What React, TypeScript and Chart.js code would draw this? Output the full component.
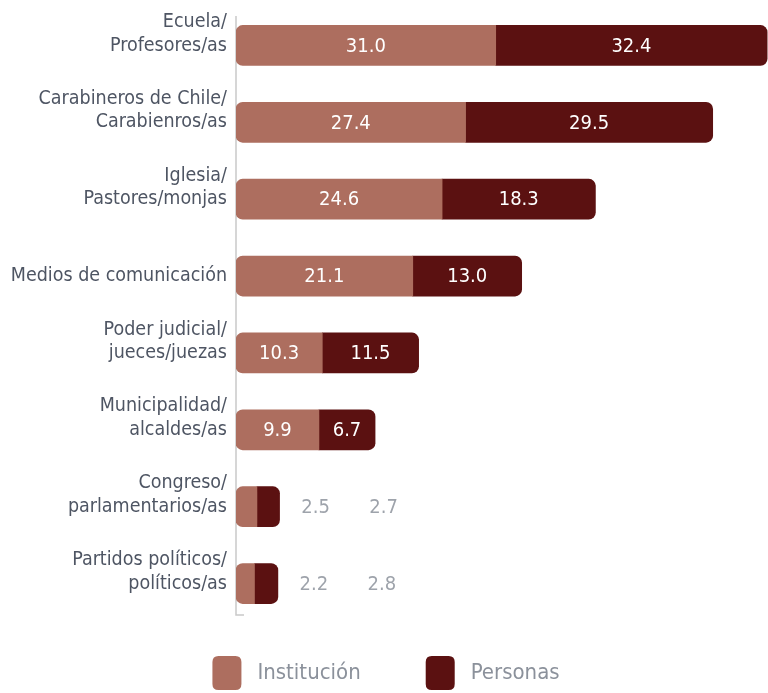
import React, { useEffect, useRef } from "react";
import { Chart, registerables } from "chart.js";

Chart.register(...registerables);

const categories: string[][] = [
  ["Ecuela/", "Profesores/as"],
  ["Carabineros de Chile/", "Carabienros/as"],
  ["Iglesia/", "Pastores/monjas"],
  ["Medios de comunicación"],
  ["Poder judicial/", "jueces/juezas"],
  ["Municipalidad/", "alcaldes/as"],
  ["Congreso/", "parlamentarios/as"],
  ["Partidos políticos/", "políticos/as"],
];
const institucion: number[] = [31.0, 27.4, 24.6, 21.1, 10.3, 9.9, 2.5, 2.2];
const personas: number[] = [32.4, 29.5, 18.3, 13.0, 11.5, 6.7, 2.7, 2.8];
const seriesNames: string[] = ["Institución", "Personas"];

const FONT = "'Liberation Sans Narrow', 'DejaVu Sans Condensed', 'Roboto Condensed', 'Liberation Sans', sans-serif";
const COL_INST = "#ad6e5f";
const COL_PERS = "#5b1111";
const COLORS = [COL_INST, COL_PERS];

function roundRect(ctx: CanvasRenderingContext2D, x: number, y: number, w: number, h: number, r: number) {
  ctx.beginPath();
  ctx.moveTo(x + r, y);
  ctx.lineTo(x + w - r, y);
  ctx.quadraticCurveTo(x + w, y, x + w, y + r);
  ctx.lineTo(x + w, y + h - r);
  ctx.quadraticCurveTo(x + w, y + h, x + w - r, y + h);
  ctx.lineTo(x + r, y + h);
  ctx.quadraticCurveTo(x, y + h, x, y + h - r);
  ctx.lineTo(x, y + r);
  ctx.quadraticCurveTo(x, y, x + r, y);
  ctx.closePath();
}

const labelsPlugin = {
  id: "barLabels",
  beforeDatasetsDraw(chart: any) {
    const ctx = chart.ctx;
    const area = chart.chartArea;
    ctx.save();
    ctx.strokeStyle = "#c9c9c9";
    ctx.lineWidth = 1.5;
    ctx.beginPath();
    ctx.moveTo(area.left, area.top + 9);
    ctx.lineTo(area.left, area.bottom - 7);
    ctx.lineTo(area.left + 8, area.bottom - 7);
    ctx.stroke();
    ctx.restore();
  },
  afterDatasetsDraw(chart: any) {
    const ctx = chart.ctx;
    ctx.save();
    ctx.font = `20px ${FONT}`;
    ctx.textBaseline = "middle";
    ctx.textAlign = "center";
    const m0 = chart.getDatasetMeta(0).data;
    const m1 = chart.getDatasetMeta(1).data;
    for (let i = 0; i < m0.length; i++) {
      const a = m0[i];
      const b = m1[i];
      const wa = Math.abs(a.x - a.base);
      const wb = Math.abs(b.x - b.base);
      const end = b.x;
      const va = institucion[i].toFixed(1);
      const vb = personas[i].toFixed(1);
      if (wa >= 36) {
        ctx.fillStyle = "#ffffff";
        ctx.fillText(va, (a.x + a.base) / 2, a.y + 1);
      } else {
        ctx.fillStyle = "#9ea3ab";
        ctx.fillText(va, end + 36, a.y + 1);
      }
      if (wb >= 36) {
        ctx.fillStyle = "#ffffff";
        ctx.fillText(vb, (b.x + b.base) / 2, b.y + 1);
      } else {
        ctx.fillStyle = "#9ea3ab";
        ctx.fillText(vb, end + 104, b.y + 1);
      }
    }
    ctx.restore();
  },
  afterDraw(chart: any) {
    const ctx = chart.ctx;
    ctx.save();
    ctx.font = `22px ${FONT}`;
    ctx.textBaseline = "middle";
    ctx.textAlign = "left";
    const boxW = 29, boxH = 34, gap = 16, spacing = 65;
    const widths = seriesNames.map((s) => ctx.measureText(s).width);
    let total = 0;
    widths.forEach((w, i) => {
      total += boxW + gap + w + (i < widths.length - 1 ? spacing : 0);
    });
    let x = (chart.width - total) / 2 + 2;
    const cy = 673;
    seriesNames.forEach((s, i) => {
      ctx.fillStyle = COLORS[i];
      roundRect(ctx, x, cy - boxH / 2, boxW, boxH, 6);
      ctx.fill();
      ctx.fillStyle = "#8b919b";
      ctx.fillText(s, x + boxW + gap, cy);
      x += boxW + gap + widths[i] + spacing;
    });
    ctx.restore();
  },
};

export default function App() {
  const ref = useRef<HTMLCanvasElement | null>(null);
  useEffect(() => {
    if (!ref.current) return;
    const chart = new Chart(ref.current, {
      type: "bar",
      data: {
        labels: categories as any,
        datasets: [
          {
            label: seriesNames[0],
            data: institucion,
            backgroundColor: COL_INST,
            borderSkipped: false,
            borderRadius: { topLeft: 7, bottomLeft: 7, topRight: 0, bottomRight: 0 },
            barThickness: 40,
          },
          {
            label: seriesNames[1],
            data: personas,
            backgroundColor: COL_PERS,
            borderSkipped: false,
            borderRadius: { topLeft: 0, bottomLeft: 0, topRight: 7, bottomRight: 7 },
            barThickness: 40,
          },
        ],
      },
      options: {
        indexAxis: "y",
        animation: false,
        responsive: false,
        layout: { padding: { top: 7, right: 0, left: 0, bottom: 71 } },
        scales: {
          x: {
            stacked: true,
            display: false,
            min: 0,
            max: 63.5,
          },
          y: {
            stacked: true,
            grid: { display: false, drawTicks: false },
            border: { display: false },
            ticks: {
              color: "#4e5563",
              font: { family: FONT, size: 19.5 },
              padding: 9,
              callback(this: any, value: any, index: number) {
                const lab = categories[index];
                // second line sits level with the bar centre, as in the original
                return lab.length > 1 ? [...lab, ""] : lab;
              },
            },
            afterFit(scale: any) {
              scale.width = 236;
              scale.paddingTop = 0;
              scale.paddingBottom = 0;
            },
          },
        },
        plugins: {
          legend: { display: false },
          tooltip: { enabled: false },
        },
      },
      plugins: [labelsPlugin],
    } as any);
    return () => chart.destroy();
  }, []);
  return (
    <div style={{ position: "absolute", left: 0, top: 0, width: 768, height: 693 }}>
      <canvas ref={ref} width={768} height={693} />
    </div>
  );
}
